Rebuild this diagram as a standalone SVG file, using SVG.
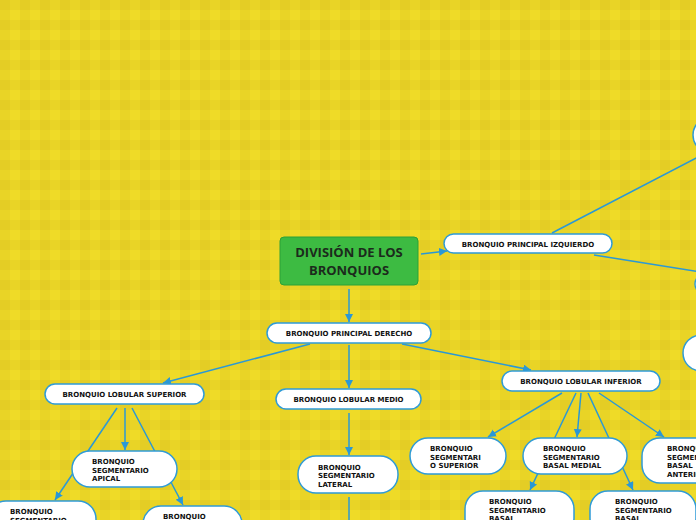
<svg xmlns="http://www.w3.org/2000/svg" width="696" height="520" viewBox="0 0 696 520">
<style>
.bg{fill:url(#plaid)}
.ln{stroke:#2A98D6;stroke-width:1.5;fill:none}
.ar{marker-end:url(#ah)}
.nd{fill:#fff;stroke:#2F9BD7;stroke-width:1.5}
.t{font-family:"DejaVu Sans",Verdana,sans-serif;font-weight:bold;font-size:7px;fill:#111}
.c{text-anchor:middle}
.root{fill:#3DBB42;stroke:#2DA136;stroke-width:1}
.rt{font-family:"Open Sans","Noto Sans",sans-serif;font-weight:bold;font-size:13px;fill:#1C2A1C;text-anchor:middle}
</style>
<defs>
<pattern id="plaid" width="20" height="20" patternUnits="userSpaceOnUse">
<rect width="20" height="20" fill="#EFDB27"/>
<rect width="10" height="20" fill="#A0781E" fill-opacity="0.07"/>
<rect width="20" height="10" fill="#A0781E" fill-opacity="0.07"/>
</pattern>
<marker id="ah" markerUnits="userSpaceOnUse" markerWidth="10" markerHeight="10" refX="8" refY="4" orient="auto">
<path d="M0,0 L8,4 L0,8 Z" fill="#2A98D6"/>
</marker>
</defs>
<rect class="bg" x="0" y="0" width="696" height="520"/>

<g id="connectors">
<path class="ln ar" d="M421,254 L447,251"/>
<path class="ln ar" d="M349,289 L349,322"/>
<path class="ln" d="M552,233 L700,156"/>
<path class="ln" d="M594,255 L700,272"/>
<path class="ln ar" d="M310,344 L163,383"/>
<path class="ln ar" d="M349,345 L349,388"/>
<path class="ln ar" d="M402,344 L531,370"/>
<path class="ln ar" d="M125,408 L125,450"/>
<path class="ln ar" d="M117,408 L55,500"/>
<path class="ln ar" d="M132,408 L183,505"/>
<path class="ln ar" d="M349,413 L349,455"/>
<path class="ln" d="M349,497 L349,522"/>
<path class="ln ar" d="M562,393 L488,437"/>
<path class="ln ar" d="M576,393 L530,490"/>
<path class="ln ar" d="M581,393 L577,437"/>
<path class="ln ar" d="M588,393 L633,490"/>
<path class="ln ar" d="M599,393 L664,437"/>
</g>

<g id="root">
<rect class="root" x="280" y="237" width="138" height="48" rx="4"/>
<text class="rt" x="349" y="257">DIVISIÓN DE LOS</text>
<text class="rt" x="349" y="275">BRONQUIOS</text>
</g>

<g id="izquierdo">
<rect class="nd" x="444" y="234" width="168" height="19" rx="9.5"/>
<text class="t c" x="528" y="246.5">BRONQUIO PRINCIPAL IZQUIERDO</text>
</g>
<g id="tr-node"><rect class="nd" x="693" y="117" width="120" height="36" rx="18"/></g>
<g id="r-node"><rect class="nd" x="695" y="274" width="120" height="20" rx="10"/></g>
<g id="r2-node"><rect class="nd" x="683" y="335" width="120" height="36" rx="18"/></g>

<g id="derecho">
<rect class="nd" x="267" y="323" width="164" height="20" rx="10"/>
<text class="t c" x="349" y="336">BRONQUIO PRINCIPAL DERECHO</text>
</g>

<g id="lob-sup">
<rect class="nd" x="45" y="384" width="159" height="20" rx="10"/>
<text class="t c" x="124.5" y="397">BRONQUIO LOBULAR SUPERIOR</text>
</g>

<g id="apical">
<rect class="nd" x="72" y="451" width="105" height="36" rx="18"/>
<text class="t" x="92" y="464">BRONQUIO</text>
<text class="t" x="92" y="472.5">SEGMENTARIO</text>
<text class="t" x="92" y="481">APICAL</text>
</g>

<g id="seg-bl">
<rect class="nd" x="-12" y="501" width="108" height="40" rx="18"/>
<text class="t" x="10" y="514">BRONQUIO</text>
<text class="t" x="10" y="522.5">SEGMENTARIO</text>
</g>

<g id="seg-bm">
<rect class="nd" x="143" y="506" width="99" height="40" rx="18"/>
<text class="t" x="163" y="519">BRONQUIO</text>
</g>

<g id="lob-medio">
<rect class="nd" x="276" y="389" width="145" height="20" rx="10"/>
<text class="t c" x="348.5" y="402">BRONQUIO LOBULAR MEDIO</text>
</g>

<g id="lateral">
<rect class="nd" x="298" y="456" width="100" height="37" rx="18"/>
<text class="t" x="318" y="469.5">BRONQUIO</text>
<text class="t" x="318" y="478">SEGMENTARIO</text>
<text class="t" x="318" y="486.5">LATERAL</text>
</g>

<g id="lob-inf">
<rect class="nd" x="502" y="371" width="158" height="20" rx="10"/>
<text class="t c" x="581" y="384">BRONQUIO LOBULAR INFERIOR</text>
</g>

<g id="seg-sup">
<rect class="nd" x="410" y="438" width="96" height="36" rx="18"/>
<text class="t" x="430" y="451">BRONQUIO</text>
<text class="t" x="430" y="459.5">SEGMENTARI</text>
<text class="t" x="430" y="468">O SUPERIOR</text>
</g>

<g id="basal-medial">
<rect class="nd" x="523" y="438" width="104" height="36" rx="18"/>
<text class="t" x="543" y="451">BRONQUIO</text>
<text class="t" x="543" y="459.5">SEGMENTARIO</text>
<text class="t" x="543" y="468">BASAL MEDIAL</text>
</g>

<g id="basal-anterior">
<rect class="nd" x="642" y="438" width="106" height="45" rx="18"/>
<text class="t" x="667" y="451">BRONQUIO</text>
<text class="t" x="667" y="459.5">SEGMENTARIO</text>
<text class="t" x="667" y="468">BASAL</text>
<text class="t" x="667" y="476.5">ANTERIOR</text>
</g>

<g id="basal-l">
<rect class="nd" x="465" y="491" width="109" height="45" rx="18"/>
<text class="t" x="489" y="504">BRONQUIO</text>
<text class="t" x="489" y="512.5">SEGMENTARIO</text>
<text class="t" x="489" y="521">BASAL</text>
</g>

<g id="basal-r">
<rect class="nd" x="590" y="491" width="106" height="45" rx="18"/>
<text class="t" x="615" y="504">BRONQUIO</text>
<text class="t" x="615" y="512.5">SEGMENTARIO</text>
<text class="t" x="615" y="521">BASAL</text>
</g>
</svg>
